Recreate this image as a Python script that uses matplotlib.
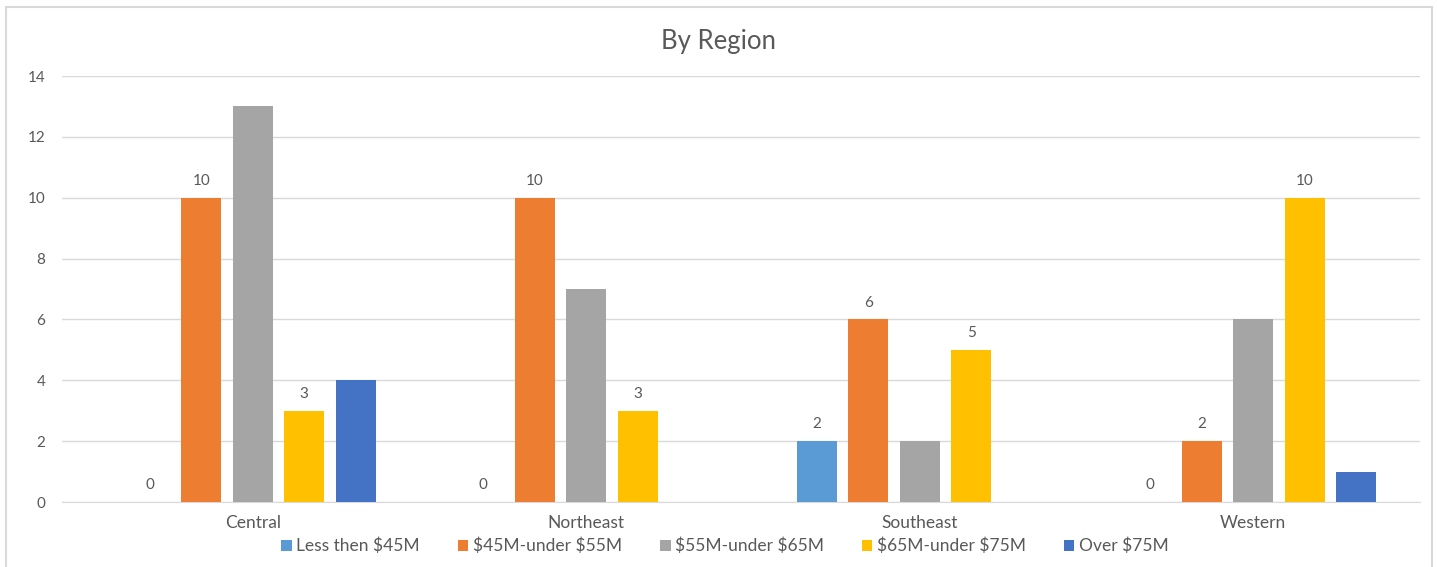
import matplotlib
matplotlib.use("Agg")
import matplotlib.pyplot as plt
import numpy as np
from matplotlib.patches import Rectangle

plt.rcParams['font.family'] = ['Lato', 'DejaVu Sans']
plt.rcParams['text.parse_math'] = False

regions = ["Central", "Northeast", "Southeast", "Western"]
series_names = ["Less then $45M", "$45M-under $55M", "$55M-under $65M",
                "$65M-under $75M", "Over $75M"]
less_45 = [0, 0, 2, 0]
m45_55 = [10, 10, 6, 2]
m55_65 = [13, 7, 2, 6]
m65_75 = [3, 3, 5, 10]
over_75 = [4, 0, 0, 1]
series_values = [less_45, m45_55, m55_65, m65_75, over_75]
labeled_series = [0, 1, 3]
colors = ["#5B9BD5", "#ED7D31", "#A5A5A5", "#FFC000", "#4472C4"]
yticks = [0, 2, 4, 6, 8, 10, 12, 14]

txt = "#595959"
fig = plt.figure(figsize=(14.37, 5.67), dpi=100)
fig.patches.append(Rectangle((6/1437, -0.05), (1432-6)/1437, 1 - 7/567 + 0.05,
                             transform=fig.transFigure, fill=False,
                             edgecolor="#D9D9D9", linewidth=1.5))
ax = fig.add_axes([62/1437, 1-502/567, (1420-62)/1437, (502-76)/567])

x = np.arange(len(regions))
width = 0.12
step = 0.1544
for i, (name, vals, c) in enumerate(zip(series_names, series_values, colors)):
    pos = x + (i - 2) * step
    bars = ax.bar(pos, vals, width, color=c, label=name, zorder=3)
    if i in labeled_series:
        for b, v in zip(bars, vals):
            ax.annotate(str(v), (b.get_x() + b.get_width()/2, v),
                        xytext=(0, 12), textcoords="offset points",
                        ha="center", va="center", fontsize=11, color=txt)

ax.set_ylim(0, 14)
ax.set_yticks(yticks)
ax.set_xlim(-0.5 - 24/333.5, 3.5)
ax.set_xticks(x)
ax.set_xticklabels(regions)
ax.grid(axis="y", color="#D9D9D9", linewidth=1, zorder=0)
for s in ["top", "right", "left"]:
    ax.spines[s].set_visible(False)
ax.spines["bottom"].set_color("#D9D9D9")
ax.tick_params(axis="both", length=0, labelcolor=txt)
ax.tick_params(axis="y", pad=12, labelsize=11)
ax.tick_params(axis="x", pad=9, labelsize=12.5)

fig.text(0.5, 1-41/567, "By Region", ha="center", va="center",
         fontsize=18.5, color=txt)

leg = fig.legend(loc="center", bbox_to_anchor=(0.5045, 1-546/567), ncol=5,
                 frameon=False, fontsize=12.5, handlelength=0.6,
                 handleheight=0.6, handletextpad=0.25, columnspacing=2.2)
for t in leg.get_texts():
    t.set_color(txt)

fig.savefig("out.png", dpi=100)
